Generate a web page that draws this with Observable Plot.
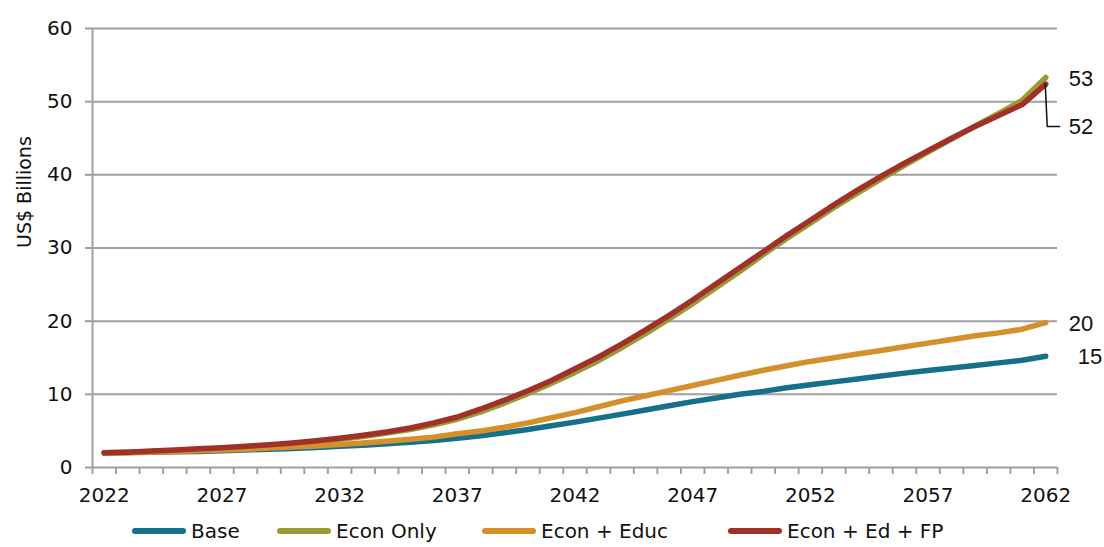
<!DOCTYPE html>
<html>
<head>
<meta charset="utf-8">
<script src="https://cdn.jsdelivr.net/npm/d3@7"></script>
<script src="https://cdn.jsdelivr.net/npm/@observablehq/plot@0.6"></script>
<style>
  html, body { margin: 0; padding: 0; background: #fff; overflow: hidden; }
  #chart { position: relative; width: 1104px; }
  #legend { position: relative; width: 1104px; height: 32px; font-family: "DejaVu Sans", sans-serif; font-size: 20px; color: #111; }
  .item { position: absolute; top: 0; height: 32px; display: flex; align-items: center; white-space: nowrap; }
  .swatch { display: inline-block; width: 54px; height: 6px; border-radius: 3px; margin-right: 5px; }
</style>
</head>
<body>
<div id="chart"></div>
<div id="legend"></div>
<script>
// Projected values, US$ billions, one value per year
const years = [2022, 2023, 2024, 2025, 2026, 2027, 2028, 2029, 2030, 2031,
               2032, 2033, 2034, 2035, 2036, 2037, 2038, 2039, 2040, 2041,
               2042, 2043, 2044, 2045, 2046, 2047, 2048, 2049, 2050, 2051,
               2052, 2053, 2054, 2055, 2056, 2057, 2058, 2059, 2060, 2061, 2062];

const base = [2.0, 2.05, 2.1, 2.15, 2.2, 2.3, 2.4, 2.5, 2.6, 2.75,
              2.9, 3.05, 3.25, 3.45, 3.7, 4.0, 4.35, 4.75, 5.2, 5.7,
              6.2, 6.75, 7.3, 7.85, 8.45, 9.0, 9.5, 10.0, 10.4, 10.9,
              11.3, 11.7, 12.1, 12.5, 12.9, 13.25, 13.6, 13.95, 14.3, 14.65, 15.2];

const econOnly = [2.0, 2.05, 2.15, 2.3, 2.45, 2.6, 2.8, 3.0, 3.25, 3.5,
                  3.85, 4.25, 4.7, 5.2, 5.85, 6.6, 7.6, 8.8, 10.1, 11.5,
                  13.0, 14.6, 16.4, 18.3, 20.3, 22.4, 24.6, 26.8, 29.1, 31.3,
                  33.4, 35.5, 37.5, 39.4, 41.3, 43.1, 44.9, 46.7, 48.4, 50.2, 53.3];

const econEduc = [2.0, 2.05, 2.1, 2.2, 2.3, 2.4, 2.5, 2.65, 2.8, 2.95,
                  3.15, 3.35, 3.6, 3.85, 4.15, 4.6, 5.0, 5.5, 6.1, 6.8,
                  7.5, 8.3, 9.1, 9.8, 10.5, 11.2, 11.9, 12.6, 13.3, 13.9,
                  14.5, 15.0, 15.5, 16.0, 16.5, 17.0, 17.5, 18.0, 18.4, 18.9, 19.8];

const econEdFP = [2.0, 2.1, 2.25, 2.4, 2.55, 2.7, 2.9, 3.1, 3.35, 3.65,
                  4.0, 4.4, 4.85, 5.4, 6.1, 6.9, 8.0, 9.2, 10.5, 11.9,
                  13.5, 15.1, 16.9, 18.8, 20.8, 22.9, 25.1, 27.3, 29.5, 31.7,
                  33.8, 35.9, 37.9, 39.8, 41.6, 43.3, 45.0, 46.6, 48.1, 49.6, 52.4];

const seriesNames = ["Base", "Econ Only", "Econ + Educ", "Econ + Ed + FP"];
const seriesColors = ["#17708a", "#9c9a36", "#d3902b", "#9f3129"];
const xTickLabels = [2022, 2027, 2032, 2037, 2042, 2047, 2052, 2057, 2062];
const yTicks = [0, 10, 20, 30, 40, 50, 60];
const yLabel = "US$ Billions";
const endLabels = ["15", "53", "20", "52"];

// Long table built from the series arrays
const seriesValues = [base, econOnly, econEduc, econEdFP];
const table = seriesNames.flatMap((name, i) =>
  seriesValues[i].map((v, j) => ({series: name, year: years[j], value: v})));

// Category boundaries for the small x tick marks
const boundaries = years.map(y => y - 0.5).concat([years[years.length - 1] + 0.5]);

// End-of-line labels: label offsets in pixels
const labelOffsets = [
  {dx: 32, dy: 1},
  {dx: 23, dy: 1},
  {dx: 23, dy: 1},
  {dx: 23, dy: 43}
];
const lastPoints = seriesNames.map((name, i) => ({
  series: name,
  year: years[years.length - 1],
  value: seriesValues[i][seriesValues[i].length - 1],
  text: endLabels[i]
}));

const grey = "#a0a0a0";
const font = "DejaVu Sans, sans-serif";

const chart = Plot.plot({
  width: 1104,
  height: 515,
  marginLeft: 92,
  marginRight: 47,
  marginTop: 28,
  marginBottom: 48,
  style: {fontFamily: font, fontSize: "20px", color: "#111", background: "#fff", overflow: "visible"},
  x: {domain: [years[0] - 0.5, years[years.length - 1] + 0.5]},
  y: {domain: [0, 60]},
  color: {domain: seriesNames, range: seriesColors},
  marks: [
    Plot.gridY(yTicks, {stroke: grey, strokeOpacity: 1, strokeWidth: 2}),
    Plot.ruleX([years[0] - 0.5], {y1: 0, y2: 60, stroke: grey, strokeWidth: 2}),
    Plot.axisY(yTicks, {tickSize: 7, tickPadding: 13, stroke: grey, strokeWidth: 2, label: null, fill: "#111", fontSize: 20}),
    Plot.axisX(boundaries, {tickSize: 7, tickFormat: () => "", stroke: grey, strokeWidth: 2, label: null}),
    Plot.axisX(xTickLabels, {tickSize: 0, tickPadding: 20, tickFormat: d => String(d), label: null, fill: "#111", fontSize: 20}),
    Plot.text([yLabel], {frameAnchor: "left", rotate: -90, dx: -68, fontSize: 19, fill: "#111"}),
    Plot.line(table, {x: "year", y: "value", z: "series", stroke: "series", strokeWidth: 5.5, strokeLinecap: "round", strokeLinejoin: "round"}),
    ...lastPoints.map((p, i) => Plot.text([p], {
      x: "year", y: "value", text: "text",
      dx: labelOffsets[i].dx, dy: labelOffsets[i].dy,
      textAnchor: "start", fontSize: 22, fontFamily: "Liberation Sans, Arial, sans-serif", fill: "#111"
    }))
  ]
});

document.getElementById("chart").appendChild(chart);

// Leader line from the end of the Econ + Ed + FP line to its label
{
  const sx = chart.scale("x"), sy = chart.scale("y");
  const p = lastPoints[3];
  const x0 = sx.apply(p.year), y0 = sy.apply(p.value);
  const off = labelOffsets[3];
  d3.select(chart).append("path")
    .attr("d", `M${x0},${y0} L${x0 + 2},${y0 + off.dy} H${x0 + off.dx - 8}`)
    .attr("fill", "none")
    .attr("stroke", "#111")
    .attr("stroke-width", 1.5);
}

// Legend below the chart
const legendStarts = [132, 277, 482, 728];
const legend = d3.select("#legend");
seriesNames.forEach((name, i) => {
  const item = legend.append("div").attr("class", "item").style("left", legendStarts[i] + "px");
  item.append("span").attr("class", "swatch").style("background", seriesColors[i]);
  item.append("span").text(name);
});
</script>
</body>
</html>
